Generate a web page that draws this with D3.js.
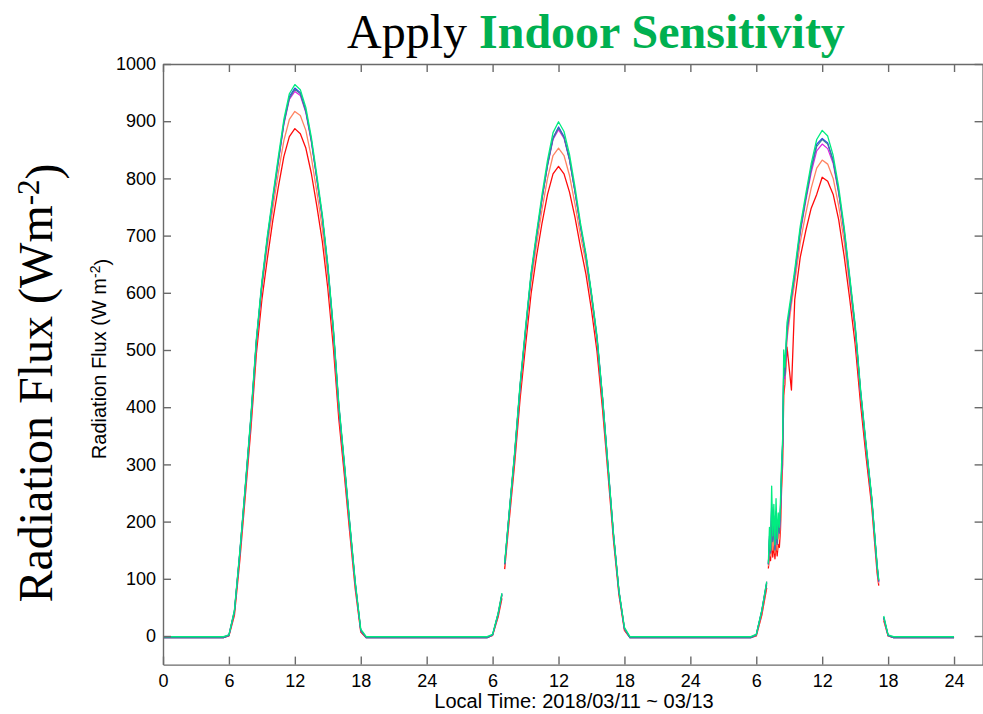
<!DOCTYPE html>
<html>
<head>
<meta charset="utf-8">
<script src="https://cdn.jsdelivr.net/npm/d3@7/dist/d3.min.js"></script>
<style>
  html, body { margin: 0; padding: 0; background: #fff; }
  svg { display: block; }
</style>
</head>
<body>
<svg id="chart" width="983" height="714"></svg>
<script>
// Elapsed hours since 2018/03/11 00:00 (shared by every series).
const hours = [
  0,
  // 03/11
  5.5, 6, 6.5, 7, 7.5, 8, 8.5, 9, 9.5, 10, 10.5, 11, 11.5, 12, 12.5, 13, 13.5, 14, 14.5, 15, 15.5, 16, 16.5, 17, 17.5, 18, 18.5,
  // 03/12
  29.5, 30, 30.5, 30.85, 30.95, 31.1, 31.5, 32, 32.5, 33, 33.5, 34, 34.5, 35, 35.5, 36, 36.5, 37, 37.5, 38, 38.5, 39, 39.5, 40, 40.5, 41, 41.5, 42, 42.5,
  // 03/13
  53.5, 54, 54.5, 54.95, 55.02, 55.1, 55.2, 55.3, 55.4, 55.5, 55.6, 55.7, 55.8, 55.9, 56, 56.1, 56.2, 56.3, 56.4,
  56.5, 56.6, 56.8, 57.2, 57.5, 58, 58.5, 59, 59.5, 60, 60.5, 61, 61.5, 62, 62.5, 63, 63.5, 64, 64.5, 65,
  65.15, 65.4, 65.6, 66, 66.5,
  72
];

// Radiation flux (W m-2); null marks missing records.
const seriesGreen = [
  -1,
  -1, 2, 45, 150, 265, 385, 520, 620, 700, 770, 838, 903, 948, 964, 955, 924, 872, 806, 737, 650, 540, 407, 305, 198, 95, 12, -1,
  -1, 3, 40, 75, null, 128, 215, 320, 440, 540, 635, 705, 772, 832, 880, 899, 882, 842, 785, 722, 668, 600, 525, 420, 300, 180, 80, 15, -1,
  -1, 3, 45, 95, null, 127, 190, 150, 262, 175, 230, 160, 240, 170, 215, 190, 235, 300, 345,
  500, 470, 548, 600, 640, 716, 772, 826, 868, 884, 874, 840, 785, 715, 630, 545, 430, 335, 245, 125,
  98, null, 35, 2, -1,
  -1
];
const seriesTeal = [
  -3,
  -3, 1, 42, 146, 262, 381, 516, 615, 694, 764, 830, 896, 940, 956, 948, 917, 866, 800, 732, 646, 536, 403, 301, 195, 92, 10, -3,
  -3, 2, 38, 72, null, 125, 212, 316, 436, 535, 630, 699, 765, 823, 870, 888, 872, 833, 777, 716, 663, 596, 521, 417, 297, 178, 78, 13, -3,
  -3, 2, 43, 92, null, 125, 170, 145, 225, 165, 205, 150, 215, 160, 200, 180, 220, 285, 335,
  470, 455, 535, 592, 632, 708, 764, 816, 856, 868, 860, 830, 776, 708, 624, 540, 426, 331, 242, 122,
  95, null, 32, 1, -3,
  -3
];
const seriesBlue = [
  -3,
  -3, 1, 43, 147, 263, 382, 517, 616, 696, 766, 833, 898, 943, 958, 950, 919, 868, 801, 733, 647, 537, 404, 302, 196, 93, 10, -3,
  -3, 2, 38, 73, null, 126, 213, 317, 437, 536, 631, 700, 766, 825, 871, 890, 873, 834, 778, 717, 664, 597, 522, 418, 298, 178, 78, 13, -3,
  -3, 2, 44, 93, null, 126, 175, 148, 230, 168, 210, 152, 218, 163, 203, 182, 222, 288, 338,
  475, 458, 538, 594, 634, 710, 766, 819, 860, 870, 862, 832, 778, 710, 626, 541, 427, 332, 243, 123,
  96, null, 33, 1, -3,
  -3
];
const seriesMagenta = [
  -2,
  -2, 2, 44, 148, 262, 380, 515, 614, 693, 763, 829, 894, 938, 952, 945, 915, 864, 799, 731, 645, 535, 402, 300, 194, 91, 10, -2,
  -2, 2, 39, 74, null, 126, 213, 317, 436, 534, 629, 698, 764, 822, 868, 885, 870, 832, 776, 716, 664, 597, 522, 418, 298, 179, 79, 13, -2,
  -2, 3, 44, 95, null, 125, 168, 146, 220, 166, 200, 152, 210, 160, 198, 180, 215, 282, 330,
  460, 450, 530, 590, 630, 704, 760, 810, 848, 860, 852, 826, 774, 706, 622, 538, 425, 330, 241, 121,
  94, null, 32, 1, -2,
  -2
];
const seriesOrange = [
  -2,
  -2, 1, 41, 143, 258, 376, 510, 606, 682, 748, 810, 866, 903, 917, 910, 884, 837, 777, 712, 630, 526, 396, 296, 191, 89, 9, -2,
  -2, 1, 37, 71, null, 123, 209, 312, 430, 527, 618, 684, 746, 800, 840, 853, 840, 805, 755, 700, 652, 588, 515, 412, 294, 176, 77, 12, -2,
  -2, 1, 41, 90, null, 122, 150, 140, 190, 150, 175, 145, 185, 150, 180, 170, 200, 270, 320,
  440, 440, 520, 580, 618, 688, 738, 783, 818, 832, 825, 800, 752, 690, 612, 530, 420, 326, 238, 118,
  92, null, 30, 0, -2,
  -2
];
const seriesRed = [
  -3,
  -3, 0, 36, 134, 247, 362, 494, 588, 660, 727, 785, 838, 873, 887, 878, 853, 809, 752, 690, 608, 506, 380, 283, 180, 82, 7, -3,
  -3, 1, 33, 66, null, 117, 200, 300, 414, 508, 598, 664, 722, 772, 808, 821, 808, 776, 732, 680, 632, 570, 498, 398, 284, 168, 72, 10, -3,
  -3, 0, 36, 84, null, 118, 140, 132, 170, 138, 160, 135, 165, 140, 160, 155, 185, 255, 300,
  420, 440, 505, 430, 588, 662, 708, 748, 772, 802, 795, 772, 728, 664, 590, 510, 404, 312, 228, 110,
  88, null, 27, 0, -3,
  -3
];

const xTicks = [0, 6, 12, 18, 24, 30, 36, 42, 48, 54, 60, 66, 72];
const xTickLabels = ["0", "6", "12", "18", "24", "6", "12", "18", "24", "6", "12", "18", "24"];
const yTicks = [0, 100, 200, 300, 400, 500, 600, 700, 800, 900, 1000];

// Drawn in this order, so the green trace lies on top where the traces coincide.
const seriesList = [
  { values: seriesRed,     color: "#ff0a0a", width: 1.3 },
  { values: seriesOrange,  color: "#ff8462", width: 1.3 },
  { values: seriesMagenta, color: "#e020e0", width: 1.2 },
  { values: seriesBlue,    color: "#2a3cf0", width: 1.2 },
  { values: seriesTeal,    color: "#3f7f9c", width: 1.2 },
  { values: seriesGreen,   color: "#00ec80", width: 1.3 }
];

const svg = d3.select("#chart");
const plotLeft = 163, plotTop = 64, plotRight = 982.6, plotBottom = 664.6;

const x = d3.scaleLinear().domain([0, 74.6]).range([plotLeft, plotRight]);
const y = d3.scaleLinear().domain([-50, 1000]).range([plotBottom, plotTop]);

svg.append("defs").append("clipPath").attr("id", "plotClip")
  .append("rect").attr("x", plotLeft).attr("y", plotTop)
  .attr("width", plotRight - plotLeft).attr("height", plotBottom - plotTop);

// Series lines
const line = d3.line()
  .defined(d => d[1] !== null)
  .x(d => x(d[0]))
  .y(d => y(d[1]));

const plot = svg.append("g").attr("clip-path", "url(#plotClip)");
seriesList.forEach(s => {
  plot.append("path")
    .datum(hours.map((h, i) => [h, s.values[i]]))
    .attr("fill", "none")
    .attr("stroke", s.color)
    .attr("stroke-width", s.width)
    .attr("stroke-linejoin", "round")
    .attr("d", line);
});

// Boxed axes with inward ticks
const axisColor = "#6a6a6a";
function styleAxis(g, fontSize) {
  g.select(".domain").attr("stroke", axisColor).attr("stroke-width", 1.4);
  g.selectAll(".tick line").attr("stroke", axisColor).attr("stroke-width", 1.4);
  g.selectAll(".tick text")
    .attr("fill", "#000")
    .style("font-family", "'Liberation Sans', Arial, sans-serif")
    .style("font-size", fontSize + "px");
}

svg.append("g").attr("transform", `translate(0,${plotBottom})`)
  .call(d3.axisBottom(x).tickValues(xTicks)
    .tickFormat((d, i) => xTickLabels[i])
    .tickSizeInner(-8).tickSizeOuter(0).tickPadding(10))
  .call(g => styleAxis(g, 18));

svg.append("g").attr("transform", `translate(0,${plotTop})`)
  .call(d3.axisTop(x).tickValues(xTicks).tickFormat("")
    .tickSizeInner(-8).tickSizeOuter(0))
  .call(g => styleAxis(g, 18));

svg.append("g").attr("transform", `translate(${plotLeft},0)`)
  .call(d3.axisLeft(y).tickValues(yTicks).tickFormat(d3.format("d"))
    .tickSizeInner(-8).tickSizeOuter(0).tickPadding(7))
  .call(g => styleAxis(g, 18));

svg.append("g").attr("transform", `translate(${plotRight},0)`)
  .call(d3.axisRight(y).tickValues(yTicks).tickFormat("")
    .tickSizeInner(-8).tickSizeOuter(0))
  .call(g => styleAxis(g, 18));

// Axis titles
svg.append("text")
  .attr("x", 574).attr("y", 708)
  .attr("text-anchor", "middle")
  .style("font-family", "'Liberation Sans', Arial, sans-serif")
  .style("font-size", "20px")
  .text("Local Time: 2018/03/11 ~ 03/13");

const yLab = svg.append("text")
  .attr("transform", "translate(106,359) rotate(-90)")
  .attr("text-anchor", "middle")
  .style("font-family", "'Liberation Sans', Arial, sans-serif")
  .style("font-size", "20px");
yLab.append("tspan").text("Radiation Flux (W m");
yLab.append("tspan").attr("dy", "-0.45em").style("font-size", "14px").text("-2");
yLab.append("tspan").attr("dy", "0.45em").text(")");

const bigLab = svg.append("text")
  .attr("transform", "translate(52,383) rotate(-90)")
  .attr("text-anchor", "middle")
  .style("font-family", "'Liberation Serif', 'Times New Roman', serif")
  .style("font-size", "48px");
bigLab.append("tspan").text("Radiation Flux (Wm");
bigLab.append("tspan").attr("dy", "-0.42em").style("font-size", "31px").text("-2");
bigLab.append("tspan").attr("dy", "0.42em").text(")");

// Title
const title = svg.append("text")
  .attr("x", 347).attr("y", 48)
  .style("font-family", "'Liberation Serif', 'Times New Roman', serif")
  .style("font-size", "48px");
title.append("tspan").attr("fill", "#000").text("Apply ");
title.append("tspan").attr("fill", "#00b050").attr("font-weight", "bold").text("Indoor Sensitivity");
</script>
</body>
</html>
